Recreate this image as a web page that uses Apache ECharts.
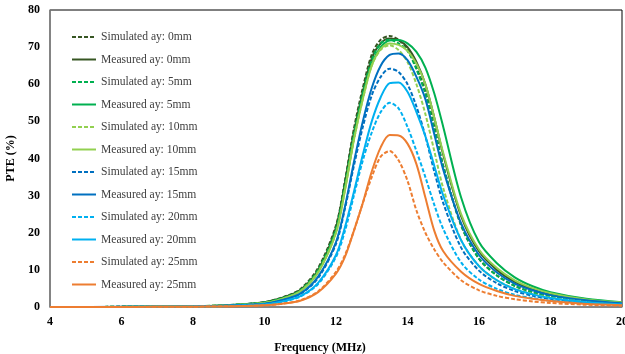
<!DOCTYPE html>
<html><head><meta charset="utf-8">
<script src="https://cdn.jsdelivr.net/npm/echarts@6/dist/echarts.min.js"></script>
<style>html,body{margin:0;padding:0;background:#fff}#c{width:625px;height:354px}</style>
</head><body><div id="c"></div>
<script>
var freq = [4, 6, 8, 9, 10, 10.5, 11, 11.5, 12, 12.25, 12.5, 12.75, 13, 13.25, 13.5, 13.75, 14, 14.25, 14.5, 14.75, 15, 15.5, 16, 16.5, 17, 17.5, 18, 19, 20];
var sim0  = [0, 0.05, 0.2, 0.5, 1.3, 2.6, 4.8, 10.5, 22, 34, 48, 59, 68, 72, 73, 72, 69.5, 64.5, 58, 48.5, 38, 22, 13, 8.5, 5.7, 4.0, 2.9, 1.6, 0.9];
var meas0 = [0, 0.05, 0.2, 0.5, 1.3, 2.5, 4.6, 10, 21.5, 33.5, 47, 58, 67, 71, 72.3, 71.8, 70, 66, 60, 51, 41, 24.5, 15, 10, 6.8, 4.8, 3.4, 1.9, 1.1];
var sim5  = [0, 0.05, 0.2, 0.5, 1.2, 2.4, 4.5, 10, 21, 33, 46.5, 57.5, 66.5, 71, 72, 71, 69, 64, 57.5, 48, 38, 22, 13, 8.5, 5.7, 4.0, 2.9, 1.6, 0.9];
var meas5 = [0, 0.05, 0.2, 0.5, 1.2, 2.3, 4.3, 9.5, 20.5, 32, 45.5, 57, 65.5, 70, 71.8, 71.9, 71, 68.7, 64.5, 57.5, 48.5, 29.5, 17.5, 11.8, 8, 5.6, 4.0, 2.2, 1.3];
var sim10 = [0, 0.05, 0.2, 0.45, 1.1, 2.2, 4.2, 9.5, 20, 31.5, 45, 56, 65, 69.3, 70.5, 69.2, 66, 60, 52, 42, 32, 18, 11, 7.2, 4.9, 3.5, 2.5, 1.4, 0.8];
var meas10= [0, 0.05, 0.2, 0.45, 1.1, 2.2, 4.2, 9.3, 20, 31.5, 45, 56, 65, 69.5, 71, 70.6, 69, 65.5, 60, 51, 41.5, 25, 15.5, 10.5, 7.2, 5.1, 3.7, 2.0, 1.2];
var sim15 = [0, 0.04, 0.15, 0.4, 0.9, 1.8, 3.5, 7.8, 17, 26.5, 38, 48.5, 57, 62, 64.2, 63.3, 60, 54, 46, 36.5, 28, 16, 9.8, 6.4, 4.3, 3.0, 2.2, 1.2, 0.7];
var meas15= [0, 0.04, 0.15, 0.4, 0.9, 1.9, 3.6, 8.2, 17.5, 27, 39, 50, 59, 65, 67.9, 68.3, 66.5, 62, 56, 46.5, 37, 22.5, 14, 9.3, 6.3, 4.5, 3.2, 1.8, 1.0];
var sim20 = [0, 0.03, 0.12, 0.3, 0.7, 1.4, 2.8, 6.2, 13.5, 20.5, 30, 39.5, 47, 52.5, 55, 53.5, 48.5, 42, 35, 27.5, 21, 12, 7.4, 4.9, 3.3, 2.4, 1.7, 1.0, 0.6];
var meas20= [0, 0.03, 0.12, 0.3, 0.7, 1.5, 2.9, 6.5, 14, 21.5, 31, 41, 50, 56.5, 60.3, 60.5, 58, 52.5, 46, 38, 30, 18, 11, 7.2, 4.8, 3.4, 2.4, 1.3, 0.7];
var sim25 = [0, 0.02, 0.08, 0.2, 0.45, 0.9, 1.8, 4.2, 9.5, 14, 20.5, 28, 35, 40.5, 42, 39.5, 34, 26, 20, 15.5, 12, 7.2, 4.5, 3.0, 2.1, 1.5, 1.1, 0.6, 0.35];
var meas25= [0, 0.02, 0.08, 0.2, 0.45, 0.9, 1.7, 4.0, 9, 13.5, 20.5, 28, 36.5, 43, 46.3, 46.2, 44, 38.5, 29.5, 20.5, 15, 9.5, 6.2, 4.3, 3.0, 2.2, 1.6, 0.8, 0.5];
var names = ["Simulated ay: 0mm","Measured ay: 0mm","Simulated ay: 5mm","Measured ay: 5mm","Simulated ay: 10mm","Measured ay: 10mm","Simulated ay: 15mm","Measured ay: 15mm","Simulated ay: 20mm","Measured ay: 20mm","Simulated ay: 25mm","Measured ay: 25mm"];
var xTicks = [4, 6, 8, 10, 12, 14, 16, 18, 20];
var yTicks = [0, 10, 20, 30, 40, 50, 60, 70, 80];

var dataSets = [sim0, meas0, sim5, meas5, sim10, meas10, sim15, meas15, sim20, meas20, sim25, meas25];
var colors = ["#375623","#375623","#00b050","#00b050","#92d050","#92d050","#0070c0","#0070c0","#00b0f0","#00b0f0","#ed7d31","#ed7d31"];
var series = dataSets.map(function(d, i){
  var dashed = (i % 2 === 0);
  return {
    name: names[i], type: 'line', smooth: 0.3, showSymbol: false, symbol: 'none',
    data: freq.map(function(f, k){ return [f, d[k]]; }),
    lineStyle: { color: colors[i], width: 2, type: dashed ? [4, 2] : 'solid' },
    itemStyle: { color: colors[i] }
  };
});
var serif = '"Liberation Serif","Times New Roman",serif';
var chart = echarts.init(document.getElementById('c'));
chart.setOption({
  animation: false,
  grid: { left: 50, right: 3, top: 10, bottom: 47, show: true, borderColor: '#000', borderWidth: 1, containLabel: false, outerBoundsMode: 'none' },
  legend: {
    orient: 'vertical', left: 66, top: 26, itemWidth: 24, itemHeight: 13, itemGap: 10.5,
    itemStyle: { opacity: 0 },
    textStyle: { fontFamily: serif, fontSize: 11.6, color: '#404040' },
    data: names
  },
  xAxis: {
    type: 'value', min: xTicks[0], max: xTicks[xTicks.length-1], interval: 2,
    name: 'Frequency (MHz)', nameLocation: 'middle', nameGap: 35,
    nameTextStyle: { fontFamily: serif, fontWeight: 'bold', fontSize: 12, color: '#000', padding: [0, 32, 0, 0] },
    axisLine: { lineStyle: { color: '#868686', width: 1.5 } },
    axisTick: { show: false }, splitLine: { show: false },
    axisLabel: { fontFamily: serif, fontWeight: 'bold', fontSize: 12, color: '#000', margin: 9 }
  },
  yAxis: {
    type: 'value', min: yTicks[0], max: yTicks[yTicks.length-1], interval: 10,
    name: 'PTE (%)', nameLocation: 'middle', nameGap: 33,
    nameTextStyle: { fontFamily: serif, fontWeight: 'bold', fontSize: 12, color: '#000' },
    axisLine: { show: true, lineStyle: { color: '#868686', width: 1.5 } },
    axisTick: { show: false }, splitLine: { show: false },
    axisLabel: { fontFamily: serif, fontWeight: 'bold', fontSize: 12, color: '#000', margin: 10 }
  },
  series: series
});
</script></body></html>
